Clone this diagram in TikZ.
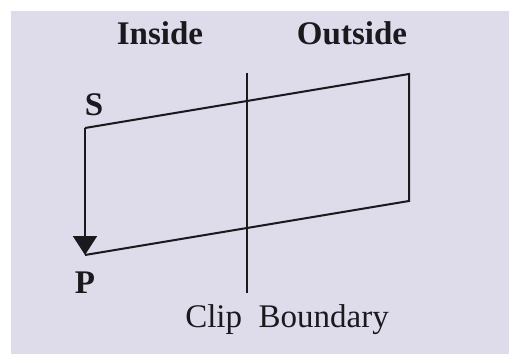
\documentclass[tikz,border=0pt]{standalone}
\usepackage{fontspec}
\setmainfont{Liberation Serif}
\usetikzlibrary{arrows.meta}
\definecolor{paper}{RGB}{222,220,234}
\definecolor{ink}{RGB}{25,25,30}

\begin{document}
\begin{tikzpicture}[
      x=0.5pt, y=0.5pt,
      font=\fontsize{16.5}{19}\selectfont,
      edge/.style={draw=ink, line width=1pt, line join=miter},
      arr/.style={edge, -{Triangle[width=12pt,length=9.5pt]}},
      lbl/.style={text=ink, inner sep=0pt}
    ]
      % page and grey card
      \useasboundingbox (0,0) rectangle (509,354);
      \fill[white] (0,0) rectangle (509,354);
      \fill[paper] (11,0) rectangle (509,343);

      % corners of the polygon
      \coordinate (s) at (85,226);
      \coordinate (tr) at (409,280);
      \coordinate (br) at (409,153);
      \coordinate (p) at (85,99);
      \coordinate (cliptop) at (247,281);
      \coordinate (clipbot) at (247,61);

      \draw[edge] (s) -- (tr) -- (br) -- (p);
      \draw[arr] (s) -- (p);
      \draw[edge] (cliptop) -- (clipbot);

      \node[lbl, font=\fontsize{16.5}{19}\selectfont\bfseries] (inside) at (160,321) {Inside};
      \node[lbl, font=\fontsize{16.5}{19}\selectfont\bfseries] (outside) at (352,321) {Outside};
      \node[lbl, font=\fontsize{16.5}{19}\selectfont\bfseries] (slbl) at (94,249) {S};
      \node[lbl, font=\fontsize{16.5}{19}\selectfont\bfseries] (plbl) at (85,71) {P};
      \node[lbl] (clip) at (287,34) {Clip\enspace Boundary};
    \end{tikzpicture}
\end{document}
